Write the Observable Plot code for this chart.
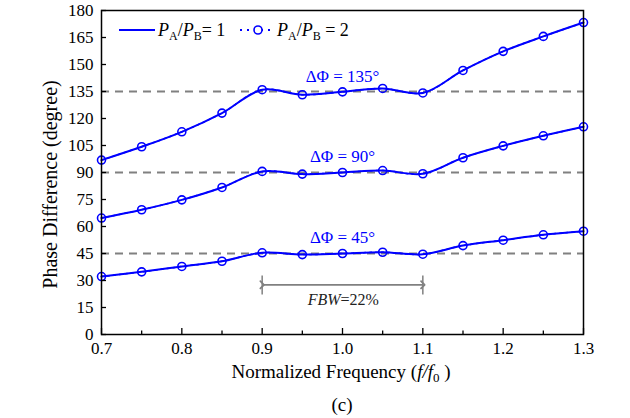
<!DOCTYPE html>
<html><head><meta charset="utf-8">
<script src="https://cdn.jsdelivr.net/npm/d3@7"></script>
<script src="https://cdn.jsdelivr.net/npm/@observablehq/plot@0.6"></script>
<style>
body{margin:0;background:#fff;}
#wrap{position:relative;width:630px;height:418px;}
</style></head><body>
<div id="wrap"></div>
<script>
// ---- data ----
const freq = [0.70, 0.75, 0.80, 0.85, 0.90, 0.95, 1.00, 1.05, 1.10, 1.15, 1.20, 1.25, 1.30];
// PA/PB = 1 (solid lines)
const r1_dphi135 = [96.9, 104.3, 112.6, 123.0, 136.0, 133.2, 134.8, 136.7, 134.2, 146.7, 157.3, 165.6, 173.3];
const r1_dphi90  = [64.7, 69.3, 74.8, 81.7, 90.6, 89.1, 90.0, 91.1, 89.3, 98.2, 104.8, 110.4, 115.4];
const r1_dphi45  = [32.2, 34.8, 37.8, 40.7, 45.4, 44.4, 45.0, 45.7, 44.6, 49.4, 52.4, 55.4, 57.4];
// PA/PB = 2 (dotted line with circles)
const r2_dphi135 = [96.9, 104.3, 112.6, 123.0, 136.0, 133.2, 134.8, 136.7, 134.2, 146.7, 157.3, 165.6, 173.3];
const r2_dphi90  = [64.7, 69.3, 74.8, 81.7, 90.6, 89.1, 90.0, 91.1, 89.3, 98.2, 104.8, 110.4, 115.4];
const r2_dphi45  = [32.2, 34.8, 37.8, 40.7, 45.4, 44.4, 45.0, 45.7, 44.6, 49.4, 52.4, 55.4, 57.4];

const targets = [45, 90, 135];
const targetLabels = ["ΔΦ = 45°", "ΔΦ = 90°", "ΔΦ = 135°"];
const targetLabelY = [54, 99, 143.5];
const targetLabelX = 1.0;

const yTicks = [0, 15, 30, 45, 60, 75, 90, 105, 120, 135, 150, 165, 180];
const xMajor = [0.7, 0.8, 0.9, 1.0, 1.1, 1.2, 1.3];
const xMinor = [0.75, 0.85, 0.95, 1.05, 1.15, 1.25];

const fbwRange = [0.9, 1.1];
const fbwArrowY = 27.6;
const fbwBarY = [22, 32.5];
const fbwTextY = 19.2;
const fbwTextX = 1.0;

// ---- build tables ----
function rows(vals, name) { return freq.map((f, i) => ({f, v: vals[i], curve: name})); }
const set1 = [...rows(r1_dphi45, "45"), ...rows(r1_dphi90, "90"), ...rows(r1_dphi135, "135")];
const set2 = [...rows(r2_dphi45, "45"), ...rows(r2_dphi90, "90"), ...rows(r2_dphi135, "135")];

const W = 630, H = 418, mL = 101, mR = 47, mT = 10, mB = 84;
const innerW = W - mL - mR, innerH = H - mT - mB;
const FONT = "Liberation Serif, Times New Roman, Times, serif";
const BLUE = "#0000ff", GRAY = "#808080";

const chart = Plot.plot({
  width: W, height: H,
  marginLeft: mL, marginRight: mR, marginTop: mT, marginBottom: mB,
  style: {fontFamily: FONT, fontSize: "17px", color: "#000", background: "#fff", overflow: "visible"},
  x: {domain: [0.7, 1.3]},
  y: {domain: [0, 180]},
  marks: [
    Plot.ruleY(targets, {y: d => d, stroke: GRAY, strokeWidth: 1.8, strokeDasharray: "8,6"}),
    Plot.line(set2, {x: "f", y: "v", z: "curve", stroke: BLUE, strokeWidth: 1.5, strokeDasharray: "2,4", curve: "catmull-rom"}),
    Plot.line(set1, {x: "f", y: "v", z: "curve", stroke: BLUE, strokeWidth: 2, curve: "catmull-rom"}),
    Plot.dot(set2, {x: "f", y: "v", r: 4, stroke: BLUE, strokeWidth: 1.6, fill: "none"}),
    Plot.text(targets, {x: () => targetLabelX, y: (d, i) => targetLabelY[i], text: (d, i) => targetLabels[i], fill: BLUE, fontSize: 17, fontFamily: FONT}),
    Plot.link([fbwRange], {x1: d => d[0], x2: d => d[1], y1: () => fbwArrowY, y2: () => fbwArrowY, stroke: GRAY, strokeWidth: 1.8, markerStart: "arrow", markerEnd: "arrow"}),
    Plot.ruleX(fbwRange, {x: d => d, y1: () => fbwBarY[0], y2: () => fbwBarY[1], stroke: GRAY, strokeWidth: 1.5}),
    Plot.text(["FBW"], {x: () => fbwTextX, y: () => fbwTextY, text: d => d, textAnchor: "end", fontStyle: "italic", fontSize: 16, fill: "#222", dx: -2, fontFamily: FONT}),
    Plot.text(["=22%"], {x: () => fbwTextX, y: () => fbwTextY, text: d => d, textAnchor: "start", fontSize: 16, fill: "#222", dx: -2, fontFamily: FONT}),
    Plot.tickX(xMajor, {x: d => d, insetTop: innerH - 6, stroke: "#000", strokeWidth: 1.3}),
    Plot.tickX(xMinor, {x: d => d, insetTop: innerH - 3.5, stroke: "#000", strokeWidth: 1.3}),
    Plot.tickY(yTicks, {y: d => d, insetRight: innerW - 5, stroke: "#000", strokeWidth: 1.3}),
    Plot.axisX({ticks: xMajor, tickSize: 0, tickPadding: 7, tickFormat: d3.format(".1f"), label: null, fontSize: 17, fontFamily: FONT}),
    Plot.axisY({ticks: yTicks, tickSize: 0, tickPadding: 8, label: null, fontSize: 17, fontFamily: FONT}),
    Plot.text(["Phase Difference (degree)"], {frameAnchor: "left", textAnchor: "middle", text: d => d, rotate: -90, dx: -51, dy: 12, fontSize: 20, fontFamily: FONT}),
    Plot.frame({stroke: "#000", strokeWidth: 1.5})
  ]
});
document.getElementById("wrap").appendChild(chart);

// ---- rich-text labels and legend ----
const svg = d3.select(chart);
const g = svg.append("g").attr("font-family", FONT).attr("fill", "#000").attr("text-anchor", "start");

// x-axis title
const xt = g.append("text").attr("x", 341).attr("y", 378).attr("text-anchor", "middle").attr("font-size", 19);
xt.append("tspan").text("Normalized Frequency (");
xt.append("tspan").attr("font-style", "italic").text("f/f");
xt.append("tspan").attr("font-size", 13).attr("dy", 4).text("0");
xt.append("tspan").attr("dy", -4).text(" )");

// caption
g.append("text").attr("x", 342).attr("y", 411).attr("text-anchor", "middle").attr("font-size", 19).text("(c)");

// legend
const lg = g.append("g");
lg.append("line").attr("x1", 119).attr("x2", 155).attr("y1", 30).attr("y2", 30).attr("stroke", BLUE).attr("stroke-width", 2);
lg.append("line").attr("x1", 240).attr("x2", 274).attr("y1", 30).attr("y2", 30).attr("stroke", BLUE).attr("stroke-width", 2).attr("stroke-dasharray", "2,5");
lg.append("circle").attr("cx", 258).attr("cy", 30).attr("r", 4).attr("fill", "#fff").attr("stroke", BLUE).attr("stroke-width", 1.6);
function ratioLabel(x, tail) {
  const t = lg.append("text").attr("x", x).attr("y", 36).attr("font-size", 18).attr("text-anchor", "start");
  t.append("tspan").attr("font-style", "italic").text("P");
  t.append("tspan").attr("font-size", 12).attr("dy", 4).text("A");
  t.append("tspan").attr("dy", -4).text("/");
  t.append("tspan").attr("font-style", "italic").text("P");
  t.append("tspan").attr("font-size", 12).attr("dy", 4).text("B");
  t.append("tspan").attr("dy", -4).text(tail);
}
ratioLabel(158, "= 1");
ratioLabel(277, " = 2");
</script>
</body></html>
